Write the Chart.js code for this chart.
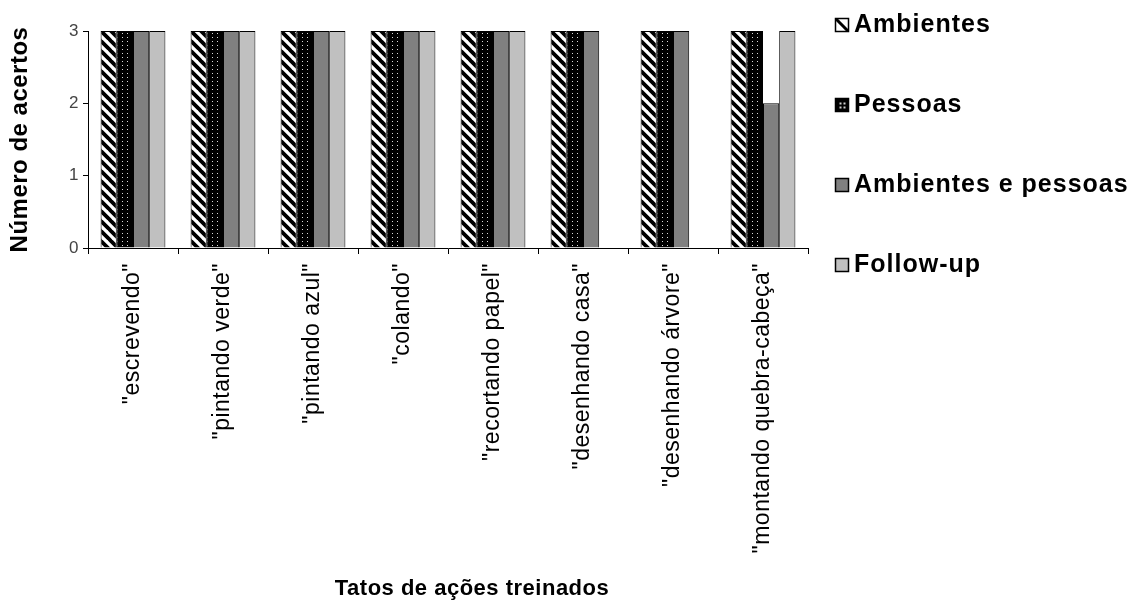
<!DOCTYPE html>
<html>
<head>
<meta charset="utf-8">
<script src="https://cdn.jsdelivr.net/npm/chart.js@4/dist/chart.umd.min.js"></script>
<style>
  html, body { margin: 0; padding: 0; background: #fff; }
  #wrap { width: 1135px; height: 602px; }
</style>
</head>
<body>
<div id="wrap"><canvas id="chart" width="1135" height="602"></canvas></div>
<script>
// Trained action tacts and the number of correct answers per condition
const categories = [
  '"escrevendo"',
  '"pintando verde"',
  '"pintando azul"',
  '"colando"',
  '"recortando papel"',
  '"desenhando casa"',
  '"desenhando árvore"',
  '"montando quebra-cabeça"'
];
const seriesNames = ['Ambientes', 'Pessoas', 'Ambientes e pessoas', 'Follow-up'];
const ambientes        = [3, 3, 3, 3, 3, 3, 3, 3];
const pessoas          = [3, 3, 3, 3, 3, 3, 3, 3];
const ambientesPessoas = [3, 3, 3, 3, 3, 3, 3, 2];
const followUp         = [3, 3, 3, 3, 3, null, null, 3];
const yTicks = [0, 1, 2, 3];
const yTitle = 'Número de acertos';
const xTitle = 'Tatos de ações treinados';

const FONT = "'Liberation Sans', Arial, sans-serif";

// Diagonal hatch (black "\" stripes on white)
function hatchPattern() {
  const s = 10;
  const c = document.createElement('canvas');
  c.width = s; c.height = s;
  const g = c.getContext('2d');
  g.fillStyle = '#fff';
  g.fillRect(0, 0, s, s);
  g.strokeStyle = '#000';
  g.lineWidth = 3.8;
  g.beginPath();
  for (const o of [-s, 0, s]) {
    g.moveTo(o - 1, -1);
    g.lineTo(o + s + 1, s + 1);
  }
  g.stroke();
  return g.createPattern(c, 'repeat');
}

// Black fill with small light dots
function dotPattern() {
  const c = document.createElement('canvas');
  c.width = 5; c.height = 4;
  const g = c.getContext('2d');
  g.fillStyle = '#000';
  g.fillRect(0, 0, 5, 4);
  g.fillStyle = '#d8d8d8';
  g.fillRect(2, 1, 1, 1);
  return g.createPattern(c, 'repeat');
}

const fills = [hatchPattern(), dotPattern(), '#808080', '#c0c0c0'];
const values = [ambientes, pessoas, ambientesPessoas, followUp];

// Slightly wider tracking for the chart text
const trackingPlugin = {
  id: 'tracking',
  beforeLayout(chart) { chart.ctx.letterSpacing = '0.5px'; },
  beforeDraw(chart) { chart.ctx.letterSpacing = '0.5px'; }
};

// Category-axis title, set a little right of the plot centre
const xTitlePlugin = {
  id: 'xTitle',
  afterDraw(chart) {
    const ctx = chart.ctx;
    ctx.save();
    ctx.letterSpacing = '0.5px';
    ctx.font = 'bold 22px ' + FONT;
    ctx.fillStyle = '#000';
    ctx.textAlign = 'center';
    ctx.textBaseline = 'middle';
    const xScale = chart.scales.x;
    ctx.fillText(xTitle, (xScale.left + xScale.right) / 2 + 24, 589);
    ctx.restore();
  }
};

// Legend column drawn to the right of the plot
const sideLegend = {
  id: 'sideLegend',
  afterDraw(chart) {
    const ctx = chart.ctx;
    const x = 835, box = 13, textX = 854;
    ctx.save();
    ctx.letterSpacing = '1px';
    ctx.font = 'bold 25px ' + FONT;
    ctx.textBaseline = 'middle';
    ctx.textAlign = 'left';
    chart.data.datasets.forEach((ds, i) => {
      const cy = 24 + i * 80;
      const top = Math.round(cy - box / 2) + 0.5;
      const left = x + 0.5;
      if (i === 0) {
        ctx.fillStyle = '#fff';
        ctx.fillRect(left, top, box, box);
        ctx.save();
        ctx.beginPath();
        ctx.rect(left, top, box, box);
        ctx.clip();
        ctx.strokeStyle = '#000';
        ctx.lineWidth = 3;
        ctx.beginPath();
        ctx.moveTo(left, top);
        ctx.lineTo(left + box, top + box);
        ctx.stroke();
        ctx.restore();
      } else if (i === 1) {
        ctx.fillStyle = '#000';
        ctx.fillRect(left, top, box, box);
        ctx.fillStyle = '#d0d0d0';
        ctx.fillRect(left + 4, top + 4, 2, 2);
        ctx.fillRect(left + 8, top + 4, 2, 2);
        ctx.fillRect(left + 4, top + 8, 2, 2);
        ctx.fillRect(left + 8, top + 8, 2, 2);
      } else {
        ctx.fillStyle = ds.backgroundColor;
        ctx.fillRect(left, top, box, box);
      }
      ctx.strokeStyle = '#000';
      ctx.lineWidth = 1.5;
      ctx.strokeRect(left, top, box, box);
      ctx.fillStyle = '#000';
      ctx.fillText(ds.label, textX, cy + 1);
    });
    ctx.restore();
  }
};

new Chart(document.getElementById('chart'), {
  type: 'bar',
  data: {
    labels: categories,
    datasets: seriesNames.map((name, i) => ({
      label: name,
      data: values[i],
      backgroundColor: fills[i],
      borderColor: '#000',
      borderWidth: 1,
      categoryPercentage: 0.72,
      barPercentage: 1.0
    }))
  },
  options: {
    responsive: false,
    animation: false,
    devicePixelRatio: 1,
    layout: { padding: { left: 0, top: 31, right: 327, bottom: 0 } },
    plugins: {
      legend: { display: false },
      tooltip: { enabled: false }
    },
    scales: {
      x: {
        offset: true,
        grid: {
          display: true,
          offset: true,
          drawOnChartArea: false,
          drawTicks: true,
          tickLength: 6,
          color: '#000'
        },
        border: { display: true, color: '#000', width: 1 },
        ticks: {
          autoSkip: false,
          minRotation: 90,
          maxRotation: 90,
          padding: 9,
          color: '#000',
          font: { family: FONT, size: 23 }
        },
        title: { display: false },
        afterFit(scale) { scale.height = 354; }
      },
      y: {
        min: 0,
        max: 3,
        afterBuildTicks(scale) { scale.ticks = yTicks.map(v => ({ value: v })); },
        grid: {
          display: true,
          drawOnChartArea: false,
          drawTicks: true,
          tickLength: 5,
          color: '#000'
        },
        border: { display: true, color: '#000', width: 1 },
        ticks: {
          padding: 4,
          color: '#444',
          font: { family: FONT, size: 17 }
        },
        title: {
          display: true,
          text: yTitle,
          color: '#000',
          font: { family: FONT, size: 24, weight: 'bold' },
          padding: { top: 6, bottom: 0 }
        },
        afterFit(scale) { scale.width = 88; }
      }
    }
  },
  plugins: [trackingPlugin, xTitlePlugin, sideLegend]
});
</script>
</body>
</html>
